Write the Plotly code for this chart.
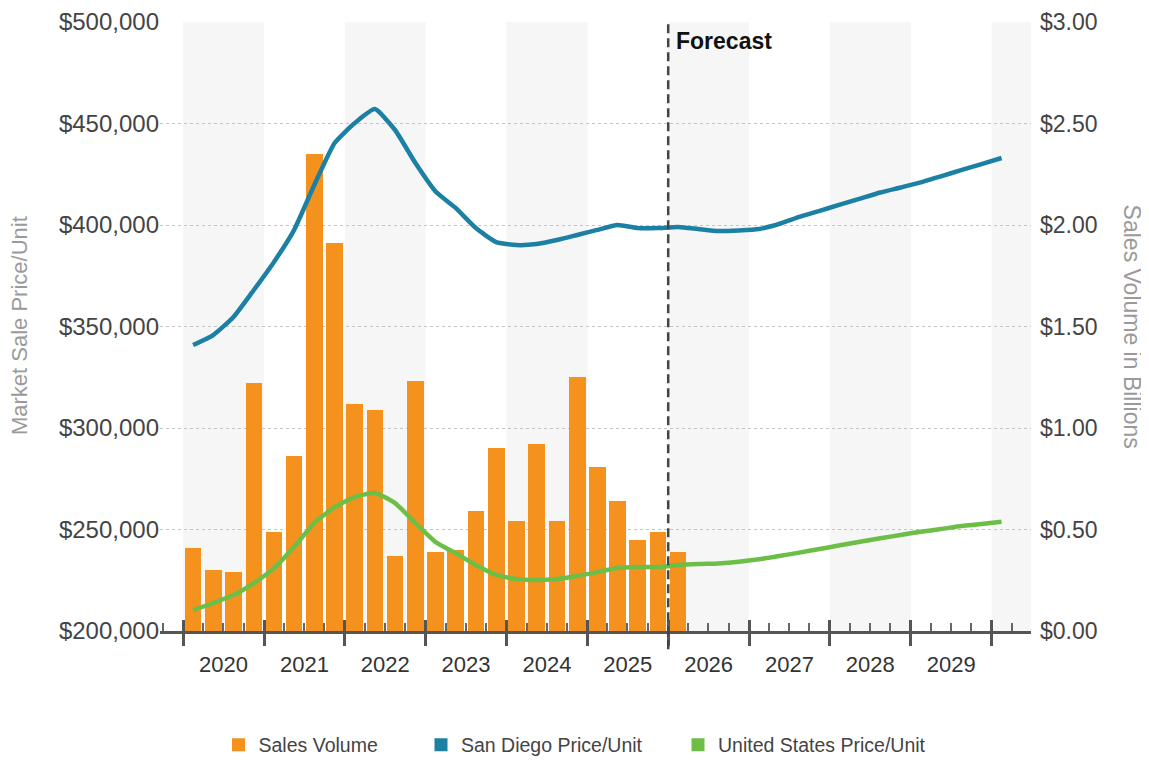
import plotly.graph_objects as go
import pandas as pd

# ---------------- data ----------------
quarters = pd.period_range("2020Q1", "2030Q1", freq="Q")
quarter_mid = [p.start_time + (p.end_time - p.start_time) / 2 for p in quarters]

# Sales volume in billions, 2020Q1 - 2026Q1
sales_volume = [0.41, 0.30, 0.29, 1.22,
                0.49, 0.86, 2.35, 1.91,
                1.12, 1.09, 0.37, 1.23,
                0.39, 0.40, 0.59, 0.90,
                0.54, 0.92, 0.54, 1.25,
                0.81, 0.64, 0.45, 0.49,
                0.39]

# San Diego market sale price per unit, 2020Q1 - 2030Q1
sd_price = [340900, 345800, 354700, 368000,
            381800, 397500, 419700, 440400,
            450200, 457100, 446800, 430500,
            416500, 408400, 398500, 391600,
            390100, 390600, 392600, 395100,
            397600, 400000, 398500, 398500,
            399000, 398000, 397000, 397300,
            398000, 400500, 404000, 407000,
            410000, 413000, 416000, 418500,
            421000, 424000, 427000, 430000,
            433000]

# United States market sale price per unit, 2020Q1 - 2030Q1
us_price = [210300, 213800, 217700, 223600,
            231000, 241400, 253200, 261000,
            266000, 268000, 263000, 253200,
            243800, 238400, 232500, 227600,
            225600, 225100, 225600, 227100,
            229000, 231000, 231500, 231500,
            232500, 233000, 233300, 234100,
            235300, 236900, 238600, 240400,
            242200, 244000, 245700, 247300,
            248900, 250200, 251700, 252700,
            253800]

years = list(range(2020, 2031))
forecast_start = "2026-01-01"
x_range = ["2019-09-19", "2030-06-28"]

series_names = ["Sales Volume", "San Diego Price/Unit", "United States Price/Unit"]
ORANGE = "#F5921E"
BLUE = "#1C80A5"
GREEN = "#6DBE47"
colors = [ORANGE, BLUE, GREEN]
FONT = "Liberation Sans, Arial, sans-serif"

# page body has an 8px margin: figure is sized/offset to compensate
W, H = 1141, 755

fig = go.Figure()

# bars on primary (right-side) axis so the lines draw over them
fig.add_trace(go.Bar(
    x=quarter_mid[:len(sales_volume)], y=sales_volume, yaxis="y",
    marker=dict(color=ORANGE, line=dict(width=0)),
    width=75 * 86400000, showlegend=False, name=series_names[0]))

fig.add_trace(go.Scatter(
    x=quarter_mid, y=sd_price, yaxis="y2", mode="lines",
    line=dict(color=BLUE, width=4.5, shape="spline", smoothing=0.5),
    showlegend=False, name=series_names[1]))

fig.add_trace(go.Scatter(
    x=quarter_mid, y=us_price, xaxis="x2", yaxis="y2", mode="lines",
    line=dict(color=GREEN, width=4.5, shape="spline", smoothing=0.5),
    showlegend=False, name=series_names[2]))

# legend entries (square swatches), one legend each for exact placement
legend_ids = ["legend", "legend2", "legend3"]
legend_left_px = [210.5, 413, 670]
for name, col, lid in zip(series_names, colors, legend_ids):
    fig.add_trace(go.Scatter(x=[None], y=[None], mode="markers", name=name,
                             marker=dict(symbol="square", size=13, color=col),
                             showlegend=True, legend=lid))

# alternating year bands
shapes = []
for y in years:
    if y % 2 == 0:
        x0 = f"{y}-01-01"
        x1 = min(pd.Timestamp(f"{y + 1}-01-01"), pd.Timestamp(x_range[1]))
        shapes.append(dict(type="rect", xref="x", yref="paper", x0=x0, x1=x1,
                           y0=0, y1=1, fillcolor="#f6f6f6", line=dict(width=0),
                           layer="below"))
shapes.append(dict(type="line", xref="x", yref="paper", x0=forecast_start,
                   x1=forecast_start, y0=-0.03, y1=1,
                   line=dict(color="#444444", width=2.5, dash="9px,5px")))

legend_common = dict(orientation="h", xref="container", yref="container",
                     xanchor="left", y=1 - 737 / H, yanchor="middle",
                     font=dict(size=19.5, color="#444444"),
                     bgcolor="rgba(0,0,0,0)")

fig.update_layout(
    width=W, height=H,
    margin=dict(l=152, r=118, t=14, b=132, autoexpand=False),
    paper_bgcolor="white", plot_bgcolor="white",
    font=dict(family=FONT, color="#444444"),
    bargap=0,
    shapes=shapes,
    xaxis=dict(
        type="date", range=x_range, automargin=False,
        tick0="2020-01-01", dtick="M12", tickformat="%Y",
        ticklabelmode="period",
        ticks="outside", ticklen=12, tickwidth=2.5, tickcolor="#555555",
        minor=dict(dtick="M3", tick0="2020-01-01", ticks="inside", ticklen=8,
                   tickwidth=1.5, tickcolor="#666666", showgrid=False),
        showline=True, linecolor="#555555", linewidth=2.5,
        showgrid=False, zeroline=False,
        tickfont=dict(size=22, color="#333333"),
    ),
    xaxis2=dict(
        type="date", matches="x", overlaying="x", anchor="y2", automargin=False,
        tick0="2020-01-01", dtick="M12",
        ticks="inside", ticklen=11, tickwidth=2.5, tickcolor="#555555",
        showticklabels=False, showgrid=False, showline=False, zeroline=False,
    ),
    yaxis=dict(
        side="right", range=[0, 3], dtick=0.5, tickformat="$.2f",
        showgrid=False, zeroline=False, ticks="", automargin=False,
        ticklabelstandoff=8,
        tickfont=dict(size=23, color="#444444"),
    ),
    yaxis2=dict(
        side="left", overlaying="y", range=[200000, 500000], dtick=50000,
        tickprefix="$", tickformat=",d", automargin=False,
        showgrid=True, gridcolor="#c4c4c4", gridwidth=1, griddash="dot",
        zeroline=False, ticks="",
        tickfont=dict(size=24, color="#444444"),
    ),
    legend=dict(legend_common, x=legend_left_px[0] / W),
    legend2=dict(legend_common, x=legend_left_px[1] / W),
    legend3=dict(legend_common, x=legend_left_px[2] / W),
    annotations=[
        dict(text="Forecast", xref="x", yref="paper", x=forecast_start, y=0.968,
             xanchor="left", yanchor="middle", xshift=6, showarrow=False,
             font=dict(size=23, color="#111111", family=FONT, weight="bold")),
        dict(text="Market Sale Price/Unit", xref="paper", yref="paper",
             x=-0.161, y=0.502, xanchor="center", yanchor="middle",
             textangle=-90, showarrow=False,
             font=dict(size=22, color="#9a9a9a")),
        dict(text="Sales Volume in Billions", xref="paper", yref="paper",
             x=1.117, y=0.50, xanchor="center", yanchor="middle",
             textangle=90, showarrow=False,
             font=dict(size=23, color="#9a9a9a")),
    ],
)

fig.write_html("out.html")
